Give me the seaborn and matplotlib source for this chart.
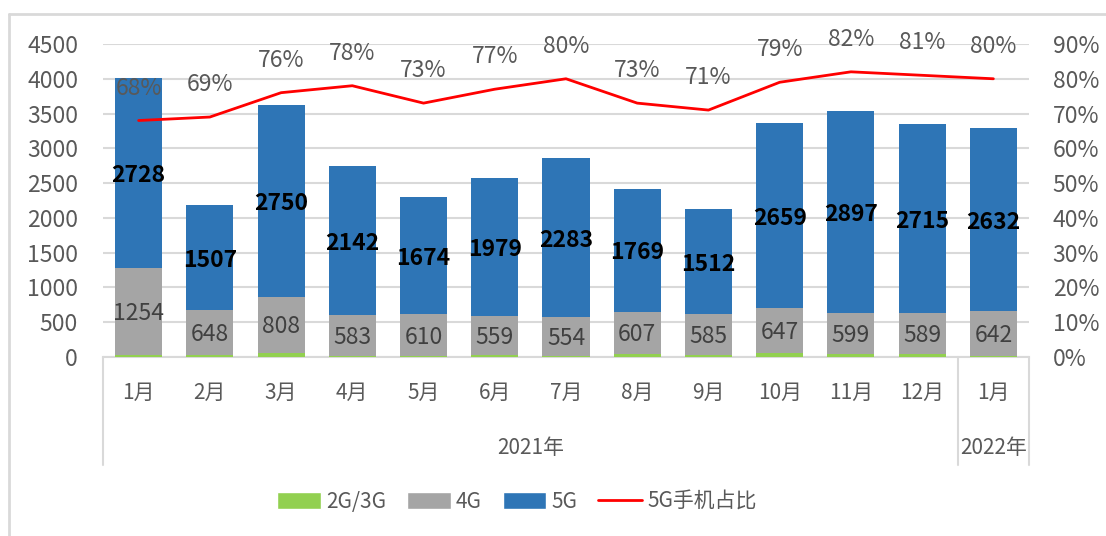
import matplotlib
matplotlib.use("Agg")
import matplotlib.pyplot as plt
from matplotlib.lines import Line2D
from matplotlib.patches import Patch
import seaborn as sns
import pandas as pd
import numpy as np

months = ["1月", "2月", "3月", "4月", "5月", "6月", "7月", "8月", "9月", "10月", "11月", "12月", "1月"]
years = ["2021年", "2022年"]
g23 = [30, 25, 58, 21, 12, 30, 18, 45, 33, 58, 37, 46, 18]
g4 = [1254, 648, 808, 583, 610, 559, 554, 607, 585, 647, 599, 589, 642]
g5 = [2728, 1507, 2750, 2142, 1674, 1979, 2283, 1769, 1512, 2659, 2897, 2715, 2632]
share = [68, 69, 76, 78, 73, 77, 80, 73, 71, 79, 82, 81, 80]

sns.set_style("white")
plt.rcParams['font.family'] = ['Noto Sans CJK SC', 'DejaVu Sans']

TXT = "#595959"
BLUE = "#2E75B6"
GRAY = "#A5A5A5"
GREEN = "#92D050"
RED = "#FF0000"

pos = list(range(len(months)))
df = pd.DataFrame({"pos": pos, "g23": g23, "g4": g4, "g5": g5})
df["low"] = df["g23"] + df["g4"]
df["total"] = df["low"] + df["g5"]

W, H = 1106, 536
fig = plt.figure(figsize=(W / 100, H / 100), dpi=100)
L, R, B, T = 103, 1029, 357, 44
ax = fig.add_axes([L / W, 1 - B / H, (R - L) / W, (B - T) / H])

sns.barplot(x=df["pos"], y=df["total"], color=BLUE, width=0.66, ax=ax,
            saturation=1, linewidth=0, zorder=3)
sns.barplot(x=df["pos"], y=df["low"], color=GRAY, width=0.66, ax=ax,
            saturation=1, linewidth=0, zorder=3)
sns.barplot(x=df["pos"], y=df["g23"], color=GREEN, width=0.66, ax=ax,
            saturation=1, linewidth=0, zorder=3)

ax.set_ylim(0, 4500)
ax.set_xlim(-0.5, len(months) - 0.5)
ax.set_yticks(range(0, 4501, 500))
ax.yaxis.grid(True, color="#D9D9D9", linewidth=1.5, zorder=0)
ax.set_axisbelow(True)
ax.tick_params(axis="y", length=0, labelsize=16.5, labelcolor=TXT, pad=18)
ax.tick_params(axis="x", length=0)
ax.set_xticklabels([])
ax.set_xlabel("")
ax.set_ylabel("")
for s in ["left", "right", "top"]:
    ax.spines[s].set_visible(False)
ax.spines["bottom"].set_color("#D9D9D9")
ax.spines["bottom"].set_linewidth(1.5)

# value labels
for i in pos:
    ax.text(i, df["low"][i] + df["g5"][i] / 2 - 40, str(g5[i]), ha="center", va="center",
            fontsize=16.5, fontweight="bold", color="black", zorder=5)
    ax.text(i, g23[i] + g4[i] / 2 - 30, str(g4[i]), ha="center", va="center",
            fontsize=16.5, color="#404040", zorder=5)

ax2 = ax.twinx()
sns.lineplot(x=pos, y=share, color=RED, linewidth=2, ax=ax2, zorder=4)
ax2.set_ylim(0, 90)
ax2.set_yticks(range(0, 91, 10))
ax2.set_yticklabels([f"{v}%" for v in range(0, 91, 10)])
ax2.tick_params(axis="y", length=0, labelsize=16.5, labelcolor=TXT, pad=17)
for s in ax2.spines.values():
    s.set_visible(False)
for i in pos:
    ax2.text(i, share[i] + 9.3, f"{share[i]}%", ha="center", va="center",
             fontsize=16.5, color=TXT, zorder=5)
ax2.set_ylabel("")

# two-level category axis
trans = ax.get_xaxis_transform()
def ay(py):
    return -(py - B) / (B - T)
for i in pos:
    ax.text(i, ay(393), months[i], transform=trans, ha="center", va="center",
            fontsize=15, color=TXT)
ax.text(5.5, ay(448), years[0], transform=trans, ha="center", va="center",
        fontsize=15, color=TXT)
ax.text(12, ay(448), years[1], transform=trans, ha="center", va="center",
        fontsize=15, color=TXT)
for xs in [-0.5, 11.5, 12.5]:
    ax.plot([xs, xs], [0, ay(465)], transform=trans, color="#D9D9D9",
            linewidth=1.5, clip_on=False)

# legend
handles = [Patch(facecolor=GREEN), Patch(facecolor=GRAY), Patch(facecolor=BLUE),
           Line2D([0], [0], color=RED, linewidth=2)]
fig.legend(handles, ["2G/3G", "4G", "5G", "5G手机占比"], loc="center",
           bbox_to_anchor=(517 / W, 1 - 502 / H), ncol=4, frameon=False,
           fontsize=15, labelcolor=TXT, handlelength=2.1, handleheight=0.85,
           columnspacing=1.0, handletextpad=0.25)

# chart border
fig.add_artist(Line2D([9 / W, 9 / W], [0, 1 - 14 / H], color="#D9D9D9", linewidth=2))
fig.add_artist(Line2D([9 / W, 1], [1 - 14 / H, 1 - 14 / H], color="#D9D9D9", linewidth=2))

fig.savefig("out.png", dpi=100)
